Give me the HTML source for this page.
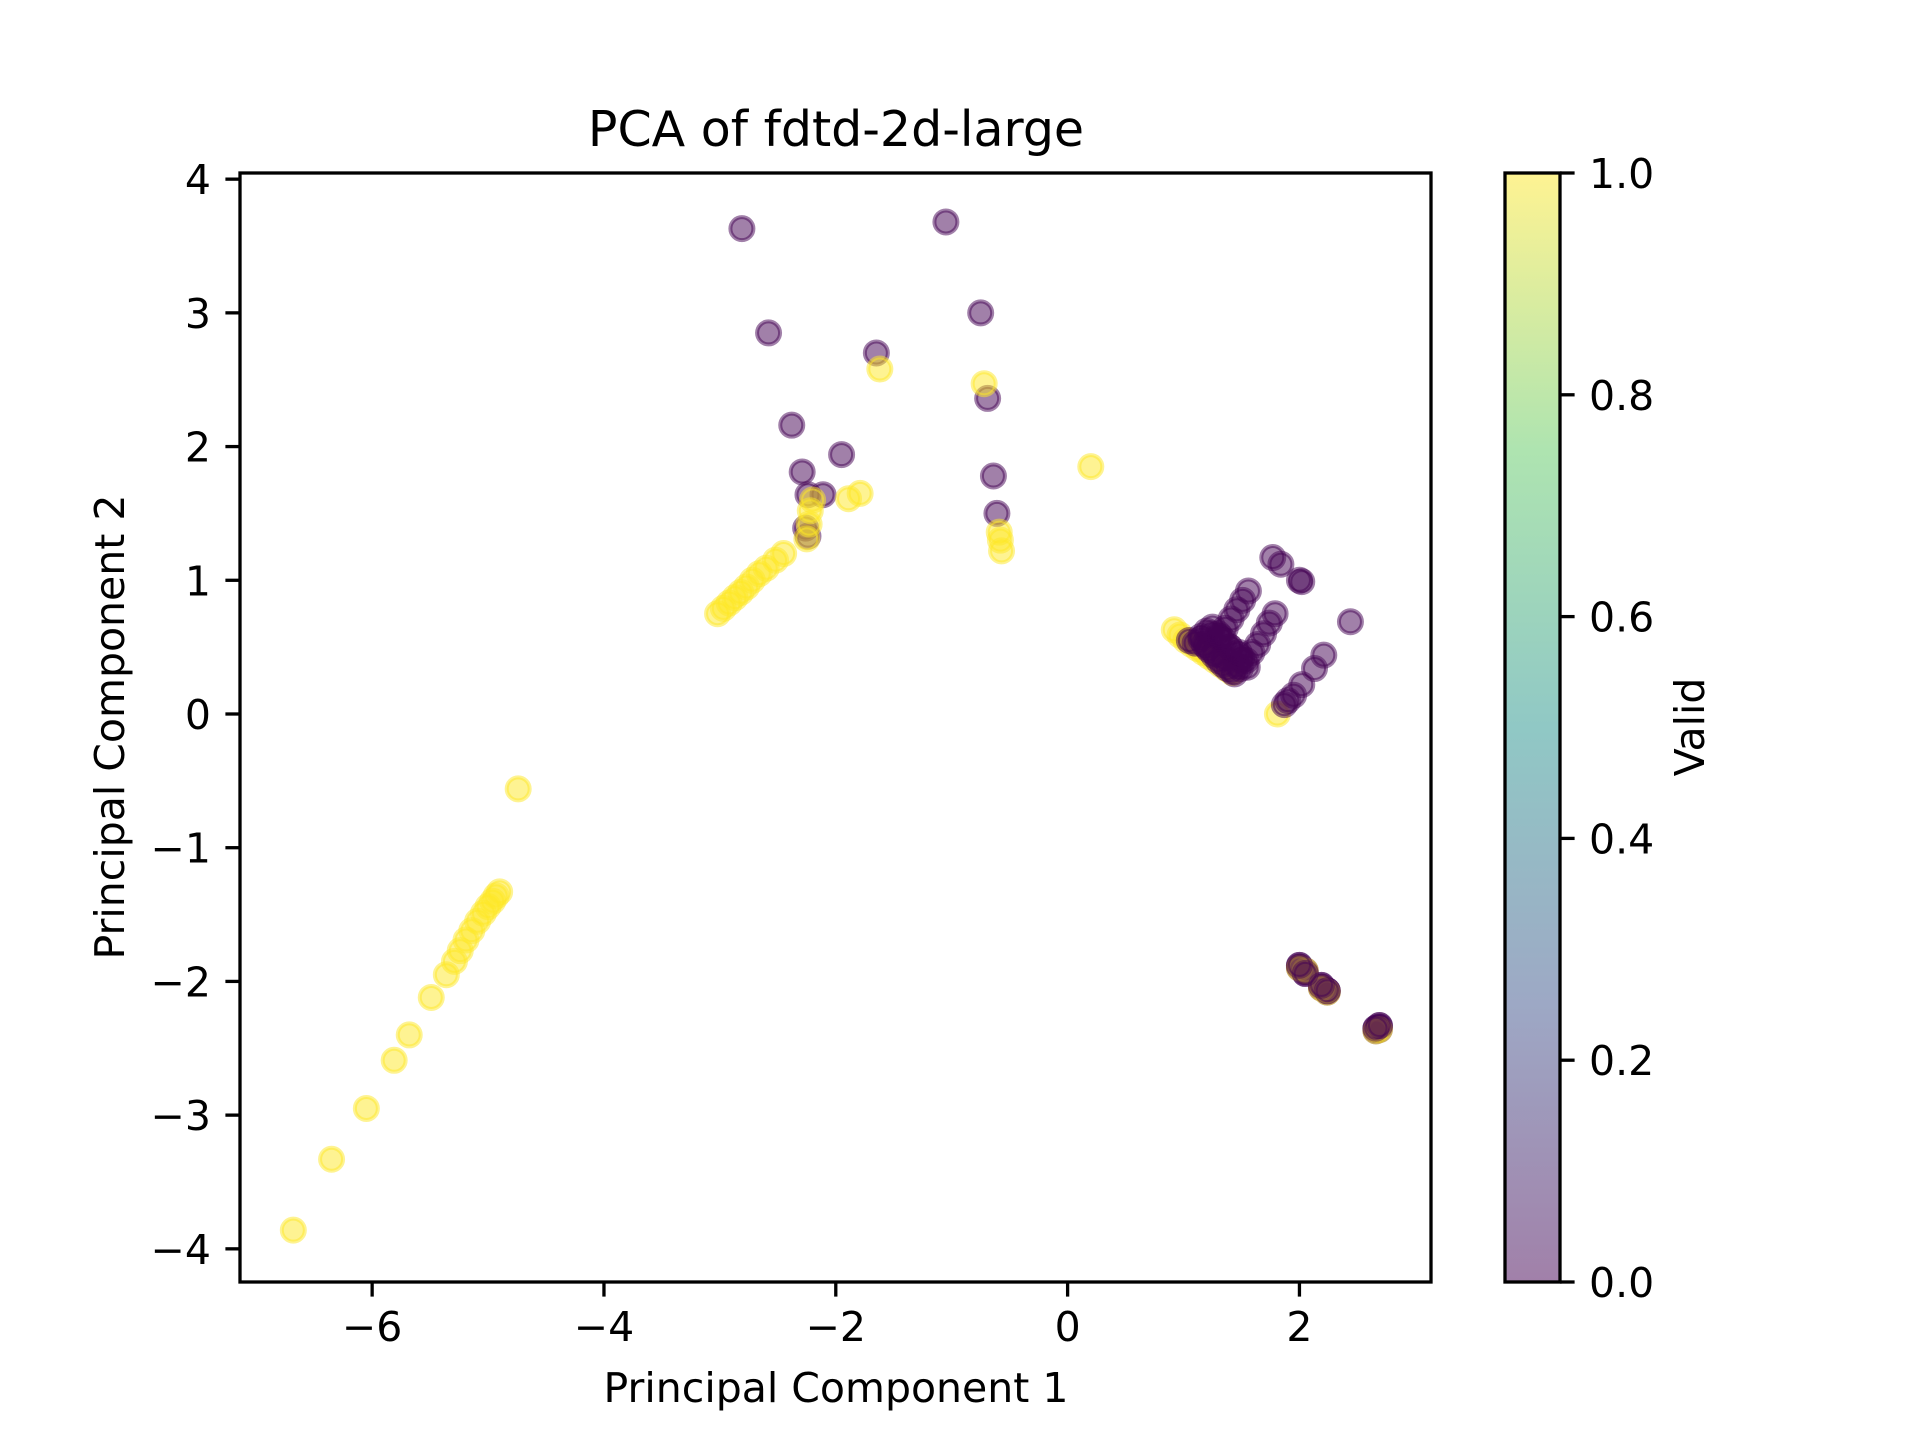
<!DOCTYPE html>
<html><head><meta charset="utf-8">
<style>
html,body{margin:0;padding:0;background:#fff;}
svg{display:block;font-family:"DejaVu Sans","Liberation Sans",sans-serif;}
</style></head>
<body>
<svg id="chart" width="1920" height="1440" viewBox="0 0 1920 1440">
<defs>
<linearGradient id="vir" x1="0" y1="1" x2="0" y2="0">
<stop offset="0" stop-color="#a180a9"/>
<stop offset="0.25" stop-color="#9da8c5"/>
<stop offset="0.5" stop-color="#90c8c5"/>
<stop offset="0.75" stop-color="#aee4b0"/>
<stop offset="1" stop-color="#fef392"/>
</linearGradient>
</defs>
<text x="836" y="146" font-size="49" text-anchor="middle">PCA of fdtd-2d-large</text>
<g id="points"></g>
<rect x="240" y="173" width="1191" height="1109" fill="none" stroke="#000" stroke-width="3.3"/>
<g id="xticks"></g>
<g id="yticks"></g>
<text x="836" y="1402" font-size="41" text-anchor="middle">Principal Component 1</text>
<text transform="translate(124,727) rotate(-90)" font-size="41" text-anchor="middle">Principal Component 2</text>
<rect x="1505" y="173" width="55" height="1109" fill="url(#vir)" stroke="#000" stroke-width="3.3"/>
<g id="cticks"></g>
<text transform="translate(1704,727) rotate(-90)" font-size="41" text-anchor="middle">Valid</text>
</svg>
<script>
const xTicks = [-6, -4, -2, 0, 2];
const yTicks = [-4, -3, -2, -1, 0, 1, 2, 3, 4];
const cTicks = [0.0, 0.2, 0.4, 0.6, 0.8, 1.0];
const ptX = [
-6.68,-6.35,-6.05,-5.81,-5.68,-5.49,-5.36,-5.29,-5.24,-5.19,-5.14,-5.09,-5.04,-5.00,-4.96,-4.93,-4.90,-4.74,
-3.02,-2.97,-2.92,-2.87,-2.82,-2.77,-2.72,-2.66,-2.60,-2.52,-2.45,
-2.81,-1.05,-2.58,-0.75,-1.65,-0.69,-2.38,-1.95,-2.29,-0.64,-2.24,-2.11,-0.61,-2.26,-2.24,
-2.25,-2.23,-2.22,-2.20,-1.89,-1.79,-1.62,-0.72,-0.59,-0.58,-0.57,0.20,
0.92,0.97,1.02,1.07,1.12,1.17,1.22,1.27,1.32,1.37,1.42,1.81,
1.77,1.84,2.00,2.02,2.44,1.56,1.51,1.46,1.41,1.36,1.31,1.79,1.74,1.69,1.64,1.59,1.54,1.49,1.44,
1.05,1.10,1.15,1.20,1.25,1.30,1.35,1.40,1.45,1.50,1.55,1.20,1.28,1.35,
1.15,1.18,1.22,1.26,1.30,1.34,1.38,1.42,1.46,1.50,1.24,1.32,1.40,1.48,
2.21,2.13,2.02,1.95,1.87,1.90,
2.00,2.05,2.19,2.24,2.66,2.69,2.00,2.05,2.19,2.24,2.66,2.69,2.00,2.05,2.19,2.24,2.66,2.69,
2.00,2.05,2.19,2.24,2.66,2.69,
2.00,2.05,2.19,2.24,2.66,2.69
];
const ptY = [
-3.86,-3.33,-2.95,-2.59,-2.40,-2.12,-1.95,-1.85,-1.77,-1.69,-1.62,-1.55,-1.49,-1.44,-1.40,-1.36,-1.33,-0.56,
0.75,0.79,0.83,0.87,0.91,0.95,1.00,1.05,1.09,1.15,1.20,
3.63,3.68,2.85,3.00,2.70,2.36,2.16,1.94,1.81,1.78,1.64,1.64,1.50,1.39,1.33,
1.31,1.42,1.52,1.60,1.61,1.65,2.58,2.47,1.36,1.30,1.22,1.85,
0.63,0.59,0.55,0.52,0.49,0.46,0.43,0.40,0.37,0.34,0.31,0.00,
1.17,1.12,1.00,0.99,0.69,0.92,0.85,0.78,0.71,0.64,0.57,0.75,0.68,0.60,0.52,0.46,0.40,0.34,0.30,
0.55,0.53,0.58,0.62,0.65,0.60,0.55,0.50,0.45,0.40,0.35,0.50,0.45,0.42,
0.56,0.52,0.48,0.44,0.40,0.37,0.34,0.32,0.36,0.42,0.60,0.58,0.50,0.46,
0.44,0.34,0.22,0.14,0.07,0.10,
-1.88,-1.94,-2.03,-2.07,-2.35,-2.33,-1.89,-1.93,-2.04,-2.07,-2.36,-2.34,-1.90,-1.92,-2.05,-2.08,-2.37,-2.36,
-1.90,-1.92,-2.05,-2.08,-2.37,-2.36,
-1.88,-1.94,-2.03,-2.07,-2.35,-2.33
];
const ptValid = [
1,1,1,1,1,1,1,1,1,1,1,1,1,1,1,1,1,1,
1,1,1,1,1,1,1,1,1,1,1,
0,0,0,0,0,0,0,0,0,0,0,0,0,0,0,
1,1,1,1,1,1,1,1,1,1,1,1,
1,1,1,1,1,1,1,1,1,1,1,1,
0,0,0,0,0,0,0,0,0,0,0,0,0,0,0,0,0,0,0,
0,0,0,0,0,0,0,0,0,0,0,0,0,0,
0,0,0,0,0,0,0,0,0,0,0,0,0,0,
0,0,0,0,0,0,
0,0,0,0,0,0,0,0,0,0,0,0,0,0,0,0,0,0,
1,1,1,1,1,1,
0,0,0,0,0,0
];
const NS = "http://www.w3.org/2000/svg";
const X0 = 240, X1 = 1431, Y0 = 173, Y1 = 1282;
const xMin = -7.14, xMax = 3.135, yMin = -4.248, yMax = 4.046;
function sx(v){ return X0 + (v - xMin) / (xMax - xMin) * (X1 - X0); }
function sy(v){ return Y1 - (v - yMin) / (yMax - yMin) * (Y1 - Y0); }
function sc(v){ return Y1 - v * (Y1 - Y0); }
function mk(tag, attrs, parent){
  const e = document.createElementNS(NS, tag);
  for (const k in attrs) e.setAttribute(k, attrs[k]);
  parent.appendChild(e);
  return e;
}
function fmtMinus(v){ return (v < 0 ? "\u2212" : "") + Math.abs(v); }
const gp = document.getElementById("points");
for (let i = 0; i < ptX.length; i++) {
  const col = ptValid[i] ? "#fde725" : "#440154";
  const c = mk("circle", {cx: sx(ptX[i]), cy: sy(ptY[i]), r: 11.5, fill: col, "fill-opacity": 0.5, stroke: col, "stroke-opacity": 0.5, "stroke-width": 4}, gp);
  
  
}
const gx = document.getElementById("xticks");
xTicks.forEach(v => {
  const x = sx(v);
  const l = mk("line", {x1: x, x2: x, y1: Y1, y2: Y1 + 14.6, stroke: "#000", "stroke-width": 3.3}, gx);
  
  
  const t = mk("text", {x: x, y: 1341, "font-size": 41, "text-anchor": "middle"}, gx);
  t.textContent = fmtMinus(v);
  
  
});
const gy = document.getElementById("yticks");
yTicks.forEach(v => {
  const y = sy(v);
  const l = mk("line", {x1: X0 - 14.6, x2: X0, y1: y, y2: y, stroke: "#000", "stroke-width": 3.3}, gy);
  
  
  const t = mk("text", {x: 211, y: y + 15, "font-size": 41, "text-anchor": "end"}, gy);
  t.textContent = fmtMinus(v);
  
  
});
const gc = document.getElementById("cticks");
cTicks.forEach(v => {
  const y = sc(v);
  const l = mk("line", {x1: 1560, x2: 1574.6, y1: y, y2: y, stroke: "#000", "stroke-width": 3.3}, gc);
  
  
  const t = mk("text", {x: 1589, y: y + 15, "font-size": 41}, gc);
  t.textContent = v.toFixed(1);
  
  
});
</script>
</body></html>
